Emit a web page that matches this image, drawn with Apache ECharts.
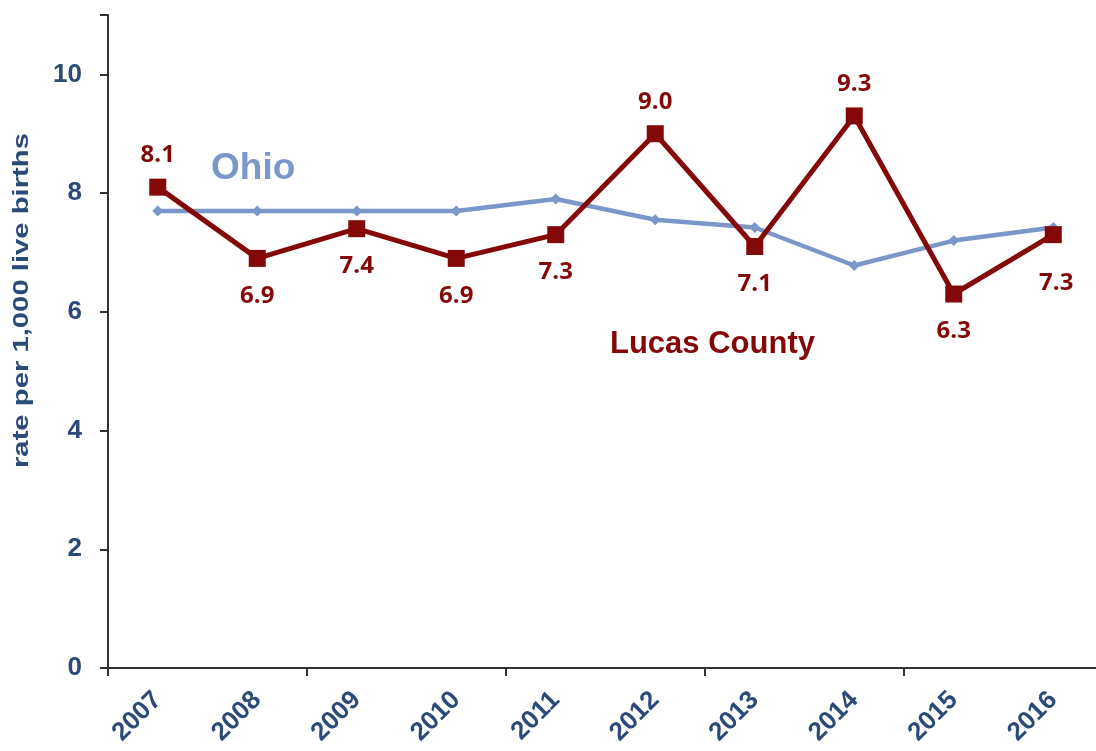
<!DOCTYPE html>
<html><head><meta charset="utf-8">
<script src="https://cdn.jsdelivr.net/npm/echarts@6/dist/echarts.min.js"></script>
<style>html,body{margin:0;padding:0;background:#fff;overflow:hidden}#c{width:1103px;height:751px}</style>
</head><body><div id="c"></div>
<script>
var years = ['2007','2008','2009','2010','2011','2012','2013','2014','2015','2016'];
var ohio = [7.7, 7.7, 7.7, 7.7, 7.9, 7.55, 7.42, 6.78, 7.2, 7.42];
var lucas = [8.1, 6.9, 7.4, 6.9, 7.3, 9.0, 7.1, 9.3, 6.3, 7.3];
var lucasLabelPos = ['top','bottom','bottom','bottom','bottom','top','bottom','top','bottom','bottom'];
var yTicks = [0, 2, 4, 6, 8, 10];

var axisBlue = '#2B4A78';
var ohioColor = '#7B96C8';
var lucasColor = '#850808';

var chart = echarts.init(document.getElementById('c'));
chart.setOption({
  animation: false,
  grid: { left: 108, right: 0, top: 15, bottom: 83, containLabel: false },
  xAxis: {
    type: 'category', data: years, boundaryGap: true,
    axisLine: { lineStyle: { color: '#333', width: 2 } },
    axisTick: { show: true, interval: function (i) { return i % 2 === 0; }, length: 8, inside: false, lineStyle: { color: '#333', width: 2 } },
    axisLabel: { rotate: 45, margin: 28, color: axisBlue, fontFamily: 'Liberation Sans', fontWeight: 'bold', fontSize: 26, interval: 0 }
  },
  yAxis: {
    type: 'value', min: 0, max: 11, interval: 2,
    splitLine: { show: false },
    axisLine: { show: true, lineStyle: { color: '#333', width: 2 } },
    axisTick: { show: true, length: 8, lineStyle: { color: '#333', width: 2 } },
    axisLabel: { margin: 26, color: axisBlue, fontFamily: 'Liberation Sans', fontWeight: 'bold', fontSize: 26,
      formatter: function (v) { return yTicks.indexOf(v) >= 0 ? String(v) : ''; } }
  },
  graphic: [
    { type: 'text', left: 11, top: 133, rotation: Math.PI / 2, scaleX: 1.33,
      style: { text: 'rate per 1,000 live births', fill: axisBlue, font: 'bold 22px "Liberation Sans"' } },
    { type: 'text', left: 211, top: 150,
      style: { text: 'Ohio', fill: ohioColor, font: 'bold 37px "Liberation Sans"' } },
    { type: 'text', left: 610, top: 329,
      style: { text: 'Lucas County', fill: lucasColor, font: 'bold 31px "Liberation Sans"' } }
  ],
  series: [
    { name: 'Ohio', type: 'line', data: ohio, symbol: 'diamond', symbolSize: 11,
      lineStyle: { color: ohioColor, width: 4.5 }, itemStyle: { color: ohioColor }, z: 2 },
    { name: 'Lucas County', type: 'line', symbol: 'rect', symbolSize: 17,
      data: lucas.map(function (v, i) {
        var last = i === lucas.length - 1;
        return { value: v, label: { position: lucasLabelPos[i],
          distance: last ? 28 : (lucasLabelPos[i] === 'top' ? 11 : 17), offset: last ? [3, 0] : [0, 0] } };
      }),
      lineStyle: { color: lucasColor, width: 5 }, itemStyle: { color: lucasColor }, z: 3,
      label: { show: true, color: lucasColor, fontFamily: 'Open Sans', fontWeight: 700, fontSize: 24,
        formatter: function (p) { return p.value.toFixed(1); } } }
  ]
});
</script></body></html>
